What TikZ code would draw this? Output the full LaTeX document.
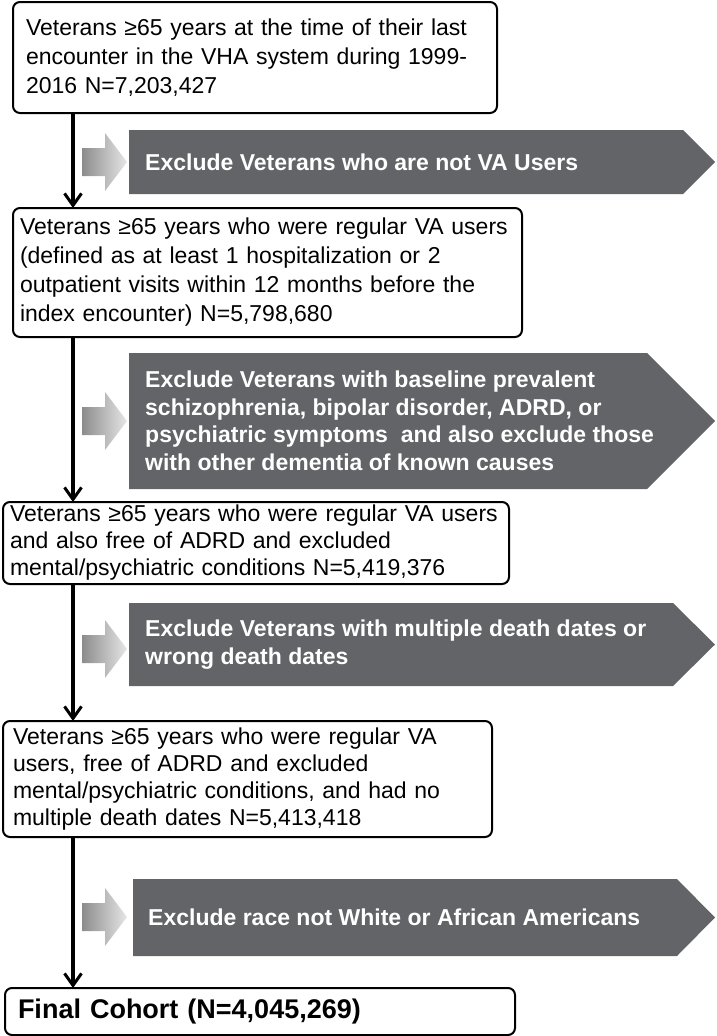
\documentclass[tikz,border=0pt]{standalone}
\usepackage{fontspec}
\setmainfont{Liberation Sans}
\usepackage{tikz}
\usetikzlibrary{arrows.meta}
\definecolor{exclGray}{RGB}{99,100,103}

\begin{document}
\begin{tikzpicture}[x=1pt,y=-1pt]
		\tikzset{cohort/.style = {draw, line width=2pt, rounded corners=7pt, anchor=north west, align=left, inner xsep=10pt, inner ysep=0pt, outer sep=0pt, font=\fontsize{23}{29}\selectfont}}
		\tikzset{exclude/.style = {anchor=west, align=left, text=white, inner sep=0pt, font=\bfseries\fontsize{23}{27.5}\selectfont}}
		\tikzset{pentagon/.style = {fill=exclGray}}
		\tikzset{hint/.style = {left color=black!45, right color=black!10}}
		\tikzset{flow/.style = {line width=3.5pt, -{Straight Barb[length=12pt,width=17pt,line width=3pt]}}}

		\useasboundingbox (0,0) rectangle (717,1036);
		\coordinate (spine) at (73,0);

		\node[cohort, inner xsep=13pt, text width=458pt, minimum height=111pt] (B_1) at (13,2) {Veterans ≥65 years at the time of their last\\encounter in the VHA system during 1999-\\2016 N=7,203,427};
		\node[cohort, inner xsep=7pt, text width=495pt, minimum height=129pt] (B_2) at (13,208) {Veterans ≥65 years who were regular VA users\\(defined as at least 1 hospitalization or 2\\outpatient visits within 12 months before the\\index encounter) N=5,798,680};
		\node[cohort, inner xsep=7pt, text width=492pt, minimum height=82pt, font=\fontsize{23}{27}\selectfont] (B_3) at (3,502) {Veterans ≥65 years who were regular VA users\\and also free of ADRD and excluded\\mental/psychiatric conditions N=5,419,376};
		\node[cohort, text width=469pt, minimum height=116pt, font=\fontsize{23}{27}\selectfont] (B_4) at (3,721) {Veterans ≥65 years who were regular VA\\users, free of ADRD and excluded\\mental/psychiatric conditions, and had no\\multiple death dates N=5,413,418};
		\node[cohort, inner xsep=13pt, text width=484pt, minimum height=47pt, font=\bfseries\fontsize{27}{32}\selectfont] (B_5) at (5,988) {Final Cohort (N=4,045,269)};

		\fill[pentagon] (129,130) -- (683,130) -- (715,162) -- (683,194) -- (129,194) -- cycle;
		\fill[pentagon] (129,353) -- (647,353) -- (715,421) -- (647,489) -- (129,489) -- cycle;
		\fill[pentagon] (129,603) -- (673,603) -- (715,644.5) -- (673,686) -- (129,686) -- cycle;
		\fill[pentagon] (133,879) -- (677,879) -- (715,917.5) -- (677,956) -- (133,956) -- cycle;

		\shade[hint] (82,148) -- ++(23,0) -- ++(0,-15) -- ++(22,29) -- ++(-22,29) -- ++(0,-15) -- ++(-23,0) -- cycle;
		\shade[hint] (82,407) -- ++(23,0) -- ++(0,-15) -- ++(22,29) -- ++(-22,29) -- ++(0,-15) -- ++(-23,0) -- cycle;
		\shade[hint] (82,635) -- ++(23,0) -- ++(0,-15) -- ++(22,29) -- ++(-22,29) -- ++(0,-15) -- ++(-23,0) -- cycle;
		\shade[hint] (82,903) -- ++(23,0) -- ++(0,-15) -- ++(22,29) -- ++(-22,29) -- ++(0,-15) -- ++(-23,0) -- cycle;

		\node[exclude] (E_1) at (145,162) {Exclude Veterans who are not VA Users};
		\node[exclude] (E_2) at (145,421) {Exclude Veterans with baseline prevalent\\schizophrenia, bipolar disorder, ADRD, or\\psychiatric symptoms~ and also exclude those\\with other dementia of known causes};
		\node[exclude] (E_3) at (145,644.5) {Exclude Veterans with multiple death dates or\\wrong death dates};
		\node[exclude] (E_4) at (148,917.5) {Exclude race not White or African Americans};

		\draw[flow] (B_1.south -| spine) -- (B_2.north -| spine);
		\draw[flow] (B_2.south -| spine) -- (B_3.north -| spine);
		\draw[flow] (B_3.south -| spine) -- (B_4.north -| spine);
		\draw[flow] (B_4.south -| spine) -- (B_5.north -| spine);

	\end{tikzpicture}
\end{document}
